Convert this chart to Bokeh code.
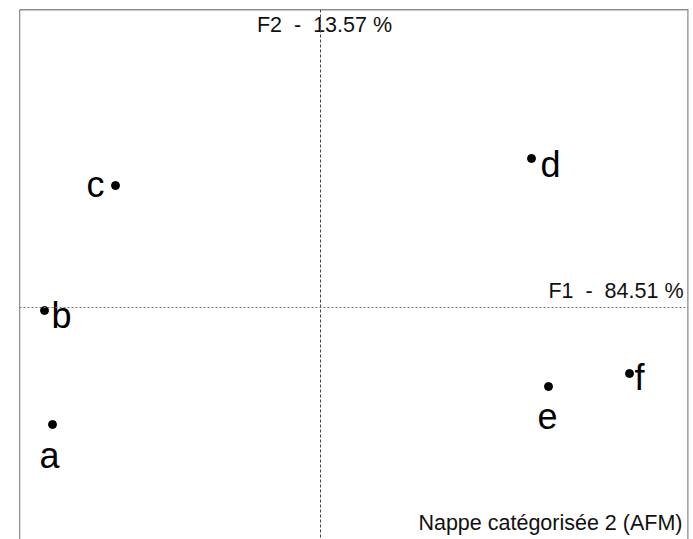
from bokeh.plotting import figure
from bokeh.models import ColumnDataSource, Span, Range1d
from bokeh.core.properties import value
from bokeh.embed import file_html
from bokeh.resources import INLINE

# Factor coordinates of the six products (F1, F2)
products = ["a", "b", "c", "d", "e", "f"]
f1 = [-2.68, -2.76, -2.05, 2.11, 2.28, 3.09]
f2 = [-1.17, -0.03, 1.22, 1.49, -0.79, -0.66]

NB = "\u00a0"
f1_label = f"F1{NB}{NB}-{NB}{NB}84.51{NB}%"
f2_label = f"F2{NB}{NB}-{NB}{NB}13.57{NB}%"
title_text = "Nappe catégorisée 2 (AFM)"

X_START, X_END = -3.01, 3.68
Y_START, Y_END = -2.32, 2.98

FONT = value("Liberation Sans")

p = figure(width=693, height=539, output_backend="svg", toolbar_location=None,
           x_range=Range1d(X_START, X_END), y_range=Range1d(Y_START, Y_END),
           x_axis_location=None, y_axis_location=None,
           min_border_left=19, min_border_right=5, min_border_top=9,
           min_border_bottom=0)
p.grid.visible = False
p.outline_line_color = None
p.background_fill_color = "white"
p.border_fill_color = "white"

# frame: left, top and right sides
p.add_layout(Span(location=X_START, dimension="height", line_color="#222222", line_width=1.3))
p.add_layout(Span(location=Y_END, dimension="width", line_color="#222222", line_width=1.3))
p.add_layout(Span(location=X_END, dimension="height", line_color="#8a8a8a", line_width=2.5))

# origin axes
p.add_layout(Span(location=0, dimension="height", line_color="#444444",
                  line_width=1, line_dash="3 2"))
p.add_layout(Span(location=0, dimension="width", line_color="#777777",
                  line_width=1, line_dash="2 2"))

# product points
src = ColumnDataSource(dict(
    x=f1, y=f2, name=products,
    align=["center", "left", "right", "left", "center", "left"],
    dx=[-3, 7, -11, 9, -1, 5],
    dy=[31, 5, -1, 6, 29, 4],
))
p.scatter("x", "y", source=src, size=8, color="black")
p.text("x", "y", text="name", source=src, text_font=FONT, text_font_size="36px",
       text_align="align", text_baseline="alphabetic", x_offset="dx", y_offset="dy",
       text_color="black")

# axis titles and caption
p.text(x=[0], y=[Y_END], text=[f2_label], text_font=FONT, text_font_size="21.5px",
       text_align="center", text_baseline="alphabetic", x_offset=4, y_offset=15,
       text_color="#111111")
p.text(x=[X_END], y=[0], text=[f1_label], text_font=FONT, text_font_size="21.5px",
       text_align="right", text_baseline="alphabetic", x_offset=-5, y_offset=-17,
       text_color="#111111")
p.text(x=[X_END], y=[Y_START], text=[title_text], text_font=FONT, text_font_size="21.5px",
       text_align="right", text_baseline="alphabetic", x_offset=-6, y_offset=-17,
       text_color="#111111")

open("out.html", "w").write(file_html(p, INLINE))
